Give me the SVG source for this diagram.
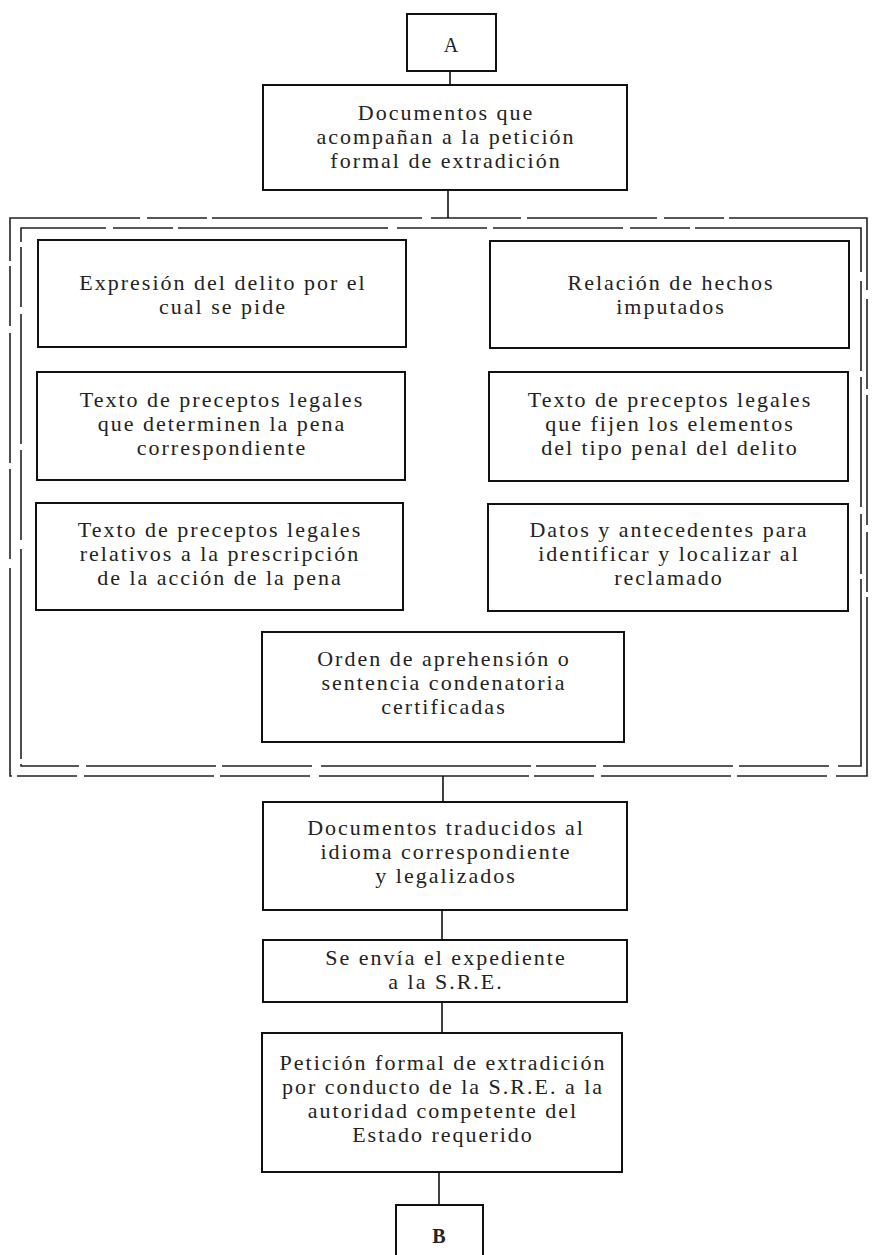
<svg xmlns="http://www.w3.org/2000/svg" width="872" height="1255" viewBox="0 0 872 1255">
<style>
.box{fill:#fff;stroke:#111;stroke-width:2}
.t{font-family:"Liberation Serif","Times New Roman",serif;font-size:22px;letter-spacing:2px;fill:#222;text-anchor:middle}
.frame{fill:none;stroke:#222;stroke-width:1.6;stroke-dasharray:130 7 60 5 210 9 90 6}
.c{stroke:#111;stroke-width:1.6;fill:none}
</style>
<rect width="872" height="1255" fill="#fff"/>
<g id="frame">
<rect class="frame" x="10" y="218" width="857" height="558"/>
<rect class="frame" x="21" y="228" width="840" height="538" style="stroke-dashoffset:45"/>
</g>
<g id="connectors">
<line class="c" x1="450" y1="71" x2="450" y2="85"/>
<line class="c" x1="448" y1="190" x2="448" y2="218"/>
<line class="c" x1="443" y1="776" x2="443" y2="802"/>
<line class="c" x1="442" y1="910" x2="442" y2="940"/>
<line class="c" x1="442" y1="1002" x2="442" y2="1033"/>
<line class="c" x1="439" y1="1172" x2="439" y2="1205"/>
</g>
<g id="nodeA">
<rect class="box" x="407" y="14" width="89" height="57"/>
<text class="t" x="452" y="52" style="font-size:20px">A</text>
</g>
<g id="docs">
<rect class="box" x="263" y="85" width="364" height="105"/>
<text class="t" x="446" y="120">Documentos que</text>
<text class="t" x="446" y="144">acompañan a la petición</text>
<text class="t" x="446" y="168">formal de extradición</text>
</g>
<g id="expresion">
<rect class="box" x="38" y="240" width="368" height="107"/>
<text class="t" x="223" y="290">Expresión del delito por el</text>
<text class="t" x="223" y="314">cual se pide</text>
</g>
<g id="relacion">
<rect class="box" x="490" y="241" width="359" height="107"/>
<text class="t" x="671" y="290">Relación de hechos</text>
<text class="t" x="671" y="314">imputados</text>
</g>
<g id="pena">
<rect class="box" x="37" y="372" width="368" height="108"/>
<text class="t" x="222" y="407">Texto de preceptos legales</text>
<text class="t" x="222" y="431">que determinen la pena</text>
<text class="t" x="222" y="455">correspondiente</text>
</g>
<g id="tipo">
<rect class="box" x="489" y="372" width="359" height="109"/>
<text class="t" x="670" y="407">Texto de preceptos legales</text>
<text class="t" x="670" y="431">que fijen los elementos</text>
<text class="t" x="670" y="455">del tipo penal del delito</text>
</g>
<g id="prescripcion">
<rect class="box" x="36" y="503" width="367" height="107"/>
<text class="t" x="220" y="537">Texto de preceptos legales</text>
<text class="t" x="220" y="561">relativos a la prescripción</text>
<text class="t" x="220" y="585">de la acción de la pena</text>
</g>
<g id="datos">
<rect class="box" x="488" y="504" width="360" height="107"/>
<text class="t" x="669" y="537">Datos y antecedentes para</text>
<text class="t" x="669" y="561">identificar y localizar al</text>
<text class="t" x="669" y="585">reclamado</text>
</g>
<g id="orden">
<rect class="box" x="262" y="632" width="362" height="110"/>
<text class="t" x="444" y="666">Orden de aprehensión o</text>
<text class="t" x="444" y="690">sentencia condenatoria</text>
<text class="t" x="444" y="714">certificadas</text>
</g>
<g id="traducidos">
<rect class="box" x="263" y="802" width="364" height="108"/>
<text class="t" x="446" y="835">Documentos traducidos al</text>
<text class="t" x="446" y="859">idioma correspondiente</text>
<text class="t" x="446" y="883">y legalizados</text>
</g>
<g id="envia">
<rect class="box" x="263" y="940" width="364" height="62"/>
<text class="t" x="446" y="965">Se envía el expediente</text>
<text class="t" x="446" y="989">a la S.R.E.</text>
</g>
<g id="peticion">
<rect class="box" x="262" y="1033" width="360" height="139"/>
<text class="t" x="443" y="1070">Petición formal de extradición</text>
<text class="t" x="443" y="1094">por conducto de la S.R.E. a la</text>
<text class="t" x="443" y="1118">autoridad competente del</text>
<text class="t" x="443" y="1142">Estado requerido</text>
</g>
<g id="nodeB">
<rect class="box" x="396" y="1205" width="87" height="62"/>
<text x="439" y="1243" style="font-family:'Liberation Serif',serif;font-size:20px;font-weight:bold;fill:#222;text-anchor:middle">B</text>
</g>
</svg>
